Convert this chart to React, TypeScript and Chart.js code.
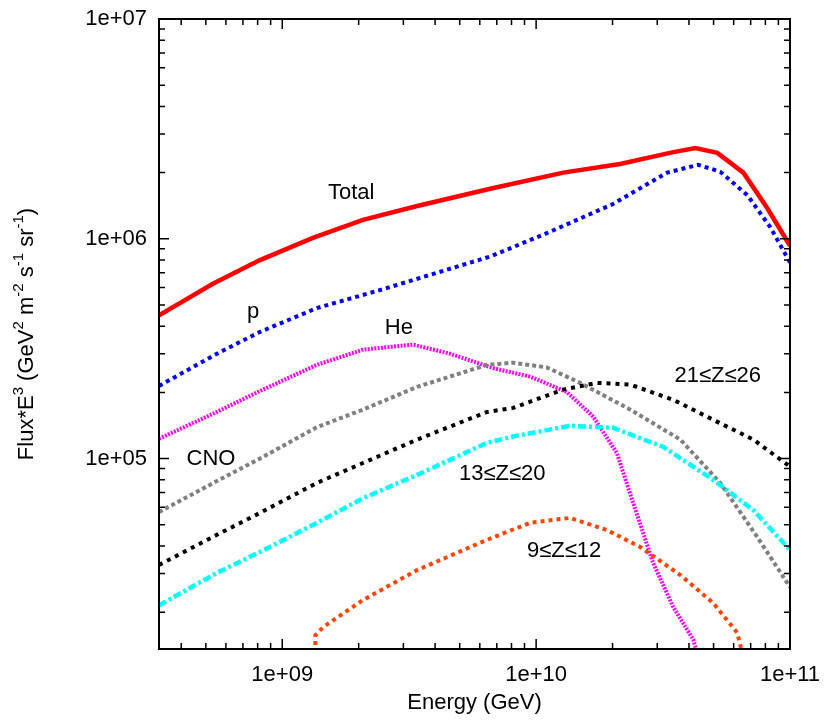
import { useEffect, useRef } from "react"
import { Chart, registerables } from "chart.js"

Chart.register(...registerables)

const FONT = "'Liberation Sans', Arial, sans-serif"

// axis ranges
const xMin = 3.27e8
const xMax = 1e11
const yMin = 1.36e4
const yMax = 1e7

const xMajorTicks = [1e9, 1e10, 1e11]
const xTickLabels = ["1e+09", "1e+10", "1e+11"]
const yMajorTicks = [1e5, 1e6, 1e7]
const yTickLabels = ["1e+05", "1e+06", "1e+07"]

// energies (GeV) and Flux*E^3
const totalE = [3.27e8, 5.33e8, 8.17e8, 1.32e9, 2.08e9, 3.4e9, 6.59e9, 1.28e10, 2.14e10, 3.47e10, 4.24e10, 5.17e10, 6.55e10, 8.13e10, 1e11]
const totalFlux = [4.48e5, 6.24e5, 8.0e5, 1.01e6, 1.22e6, 1.41e6, 1.69e6, 2.0e6, 2.19e6, 2.48e6, 2.59e6, 2.46e6, 2.0e6, 1.38e6, 9.3e5]

const protonE = [3.27e8, 5.53e8, 8.17e8, 1.37e9, 2.5e9, 6.59e9, 1.1e10, 2.01e10, 3.28e10, 4.35e10, 5.31e10, 6.79e10, 8.36e10, 1e11]
const protonFlux = [2.14e5, 3.0e5, 3.77e5, 4.84e5, 5.9e5, 8.3e5, 1.06e6, 1.44e6, 2.0e6, 2.17e6, 2.02e6, 1.58e6, 1.13e6, 7.8e5]

const heliumE = [3.27e8, 5.53e8, 8.17e8, 1.37e9, 2.08e9, 3.27e9, 4.58e9, 6.77e9, 9.47e9, 1.32e10, 1.68e10, 2.08e10, 2.41e10, 2.89e10, 3.47e10, 4.16e10, 4.4e10]
const heliumFlux = [1.23e5, 1.63e5, 2.03e5, 2.67e5, 3.13e5, 3.3e5, 3.0e5, 2.58e5, 2.36e5, 2.01e5, 1.55e5, 1.06e5, 6.3e4, 3.35e4, 2.11e4, 1.5e4, 1.2e4]

const cnoE = [3.27e8, 5.53e8, 8.17e8, 1.37e9, 2.08e9, 3.4e9, 6.41e9, 8.11e9, 1.1e10, 1.49e10, 2.35e10, 3.7e10, 5.31e10, 7.43e10, 1e11]
const cnoFlux = [5.71e4, 7.9e4, 1.0e5, 1.39e5, 1.67e5, 2.12e5, 2.67e5, 2.73e5, 2.6e5, 2.21e5, 1.67e5, 1.22e5, 7.75e4, 4.4e4, 2.6e4]

const ironE = [3.27e8, 5.53e8, 8.17e8, 1.37e9, 2.08e9, 3.4e9, 6.41e9, 8.11e9, 1.28e10, 1.74e10, 2.35e10, 3.47e10, 4.99e10, 7.17e10, 1e11]
const ironFlux = [3.28e4, 4.5e4, 5.66e4, 7.75e4, 9.55e4, 1.22e5, 1.63e5, 1.7e5, 2.06e5, 2.21e5, 2.17e5, 1.85e5, 1.5e5, 1.22e5, 9.2e4]

const siliconE = [3.27e8, 5.53e8, 8.17e8, 1.37e9, 2.08e9, 3.4e9, 6.41e9, 8.11e9, 1.36e10, 2.01e10, 3.17e10, 4.99e10, 7.17e10, 1e11]
const siliconFlux = [2.15e4, 3.02e4, 3.76e4, 5.1e4, 6.6e4, 8.43e4, 1.18e5, 1.26e5, 1.41e5, 1.38e5, 1.13e5, 8.0e4, 5.83e4, 3.84e4]

const neonE = [1.35e9, 1.35e9, 1.45e9, 2.08e9, 3.4e9, 6.41e9, 9.47e9, 1.36e10, 1.9e10, 2.57e10, 3.7e10, 4.99e10, 6.2e10, 6.6e10]
const neonFlux = [1.2e4, 1.57e4, 1.71e4, 2.27e4, 3.11e4, 4.27e4, 5.1e4, 5.37e4, 4.73e4, 3.96e4, 2.95e4, 2.2e4, 1.61e4, 1.2e4]

// in-plot curve labels, placed in data coordinates (text baseline)
const curveLabels = [
  { text: "Total", e: 1.87e9, f: 1.52e6 },
  { text: "p", e: 7.67e8, f: 4.36e5 },
  { text: "He", e: 2.88e9, f: 3.7e5 },
  { text: "CNO", e: 5.24e8, f: 9.36e4 },
  { text: "21≤Z≤26", e: 5.19e10, f: 2.23e5 },
  { text: "13≤Z≤20", e: 7.35e9, f: 8.0e4 },
  { text: "9≤Z≤12", e: 1.29e10, f: 3.57e4 },
]

const yTitleParts = [
  { t: "Flux*E", sup: false },
  { t: "3", sup: true },
  { t: " (GeV", sup: false },
  { t: "2", sup: true },
  { t: " m", sup: false },
  { t: "-2", sup: true },
  { t: " s", sup: false },
  { t: "-1", sup: true },
  { t: " sr", sup: false },
  { t: "-1", sup: true },
  { t: ")", sup: false },
]

function pts(xs: number[], ys: number[]) {
  return xs.map((x, i) => ({ x, y: ys[i] }))
}

const framePlugin = {
  id: "frame",
  afterDatasetsDraw(chart: any) {
    const { ctx, chartArea: a, scales } = chart
    const xs = scales.x
    const ys = scales.y
    ctx.save()
    ctx.strokeStyle = "#000"
    ctx.lineWidth = 2
    ctx.strokeRect(a.left, a.top, a.right - a.left, a.bottom - a.top)

    ctx.lineWidth = 1.5
    ctx.beginPath()
    // x ticks, bottom and top, pointing inward
    for (let d = 8; d <= 10; d++) {
      for (let m = 1; m <= 9; m++) {
        const v = m * Math.pow(10, d)
        if (v < xMin || v > xMax) continue
        const px = xs.getPixelForValue(v)
        const len = m === 1 ? 10 : 6
        ctx.moveTo(px, a.bottom)
        ctx.lineTo(px, a.bottom - len)
        ctx.moveTo(px, a.top)
        ctx.lineTo(px, a.top + len)
      }
    }
    // y ticks, left and right
    for (let d = 4; d <= 6; d++) {
      for (let m = 1; m <= 9; m++) {
        const v = m * Math.pow(10, d)
        if (v < yMin || v > yMax) continue
        const py = ys.getPixelForValue(v)
        const len = m === 1 ? 10 : 6
        ctx.moveTo(a.left, py)
        ctx.lineTo(a.left + len, py)
        ctx.moveTo(a.right, py)
        ctx.lineTo(a.right - len, py)
      }
    }
    ctx.stroke()

    // curve labels
    ctx.fillStyle = "#000"
    ctx.font = `22px ${FONT}`
    ctx.textAlign = "center"
    ctx.textBaseline = "alphabetic"
    curveLabels.forEach((l) => {
      ctx.fillText(l.text, xs.getPixelForValue(l.e), ys.getPixelForValue(l.f))
    })

    // y-axis title with superscripts
    const mainFont = `22px ${FONT}`
    const supFont = `15px ${FONT}`
    let total = 0
    yTitleParts.forEach((p) => {
      ctx.font = p.sup ? supFont : mainFont
      total += ctx.measureText(p.t).width
    })
    const cy = (a.top + a.bottom) / 2
    ctx.translate(33, cy)
    ctx.rotate(-Math.PI / 2)
    ctx.textAlign = "left"
    let x = -total / 2
    yTitleParts.forEach((p) => {
      ctx.font = p.sup ? supFont : mainFont
      ctx.fillText(p.t, x, p.sup ? -10 : 0)
      x += ctx.measureText(p.t).width
    })
    ctx.restore()
  },
}

export default function App() {
  const canvasRef = useRef<HTMLCanvasElement>(null)

  useEffect(() => {
    if (!canvasRef.current) return
    const ctx = canvasRef.current.getContext("2d")
    if (!ctx) return

    const line = (data: any, color: string, width: number, dash: number[]) => ({
      data,
      borderColor: color,
      backgroundColor: color,
      borderWidth: width,
      borderDash: dash,
      borderCapStyle: "butt",
      pointRadius: 0,
      tension: 0,
      clip: 0,
    })

    const chart = new Chart(ctx, {
      type: "line",
      data: {
        datasets: [
          line(pts(neonE, neonFlux), "#ff4500", 4, [4, 4]),
          line(pts(siliconE, siliconFlux), "#00ffff", 4.5, [8, 3, 3, 3]),
          line(pts(ironE, ironFlux), "#000000", 4, [4, 5]),
          line(pts(cnoE, cnoFlux), "#808080", 4, [4, 3]),
          line(pts(heliumE, heliumFlux), "#ff00ff", 4, [2, 1.3]),
          line(pts(protonE, protonFlux), "#0000ff", 4, [4, 4]),
          line(pts(totalE, totalFlux), "#ff0000", 4.5, []),
        ] as any,
      },
      options: {
        animation: false,
        responsive: true,
        maintainAspectRatio: false,
        layout: { padding: { top: 19, right: 40, left: 0, bottom: 0 } },
        plugins: {
          legend: { display: false },
          tooltip: { enabled: false },
        },
        scales: {
          x: {
            type: "logarithmic",
            min: xMin,
            max: xMax,
            grid: { display: false, drawTicks: false },
            border: { display: false },
            afterBuildTicks: (s: any) => {
              s.ticks = xMajorTicks.map((v) => ({ value: v }))
            },
            afterFit: (s: any) => {
              s.height = 71
              s.paddingLeft = 0
              s.paddingRight = 0
            },
            ticks: {
              autoSkip: false,
              maxRotation: 0,
              padding: 13,
              color: "#000",
              font: { family: FONT, size: 22 },
              callback: (v: any) => xTickLabels[xMajorTicks.indexOf(Number(v))] ?? "",
            },
            title: {
              display: true,
              text: "Energy (GeV)",
              color: "#000",
              font: { family: FONT, size: 22 },
              padding: { top: 0, bottom: 4 },
            },
          },
          y: {
            type: "logarithmic",
            min: yMin,
            max: yMax,
            grid: { display: false, drawTicks: false },
            border: { display: false },
            afterBuildTicks: (s: any) => {
              s.ticks = yMajorTicks.map((v) => ({ value: v }))
            },
            afterFit: (s: any) => {
              s.width = 159
              s.paddingTop = 0
              s.paddingBottom = 0
            },
            ticks: {
              autoSkip: false,
              padding: 12,
              color: "#000",
              font: { family: FONT, size: 22 },
              callback: (v: any) => yTickLabels[yMajorTicks.indexOf(Number(v))] ?? "",
            },
          },
        },
      },
      plugins: [framePlugin],
    } as any)

    return () => {
      chart.destroy()
    }
  }, [])

  return (
    <div style={{ position: "fixed", left: 0, top: 0, width: 830, height: 720, background: "#fff" }}>
      <canvas ref={canvasRef}></canvas>
    </div>
  )
}
